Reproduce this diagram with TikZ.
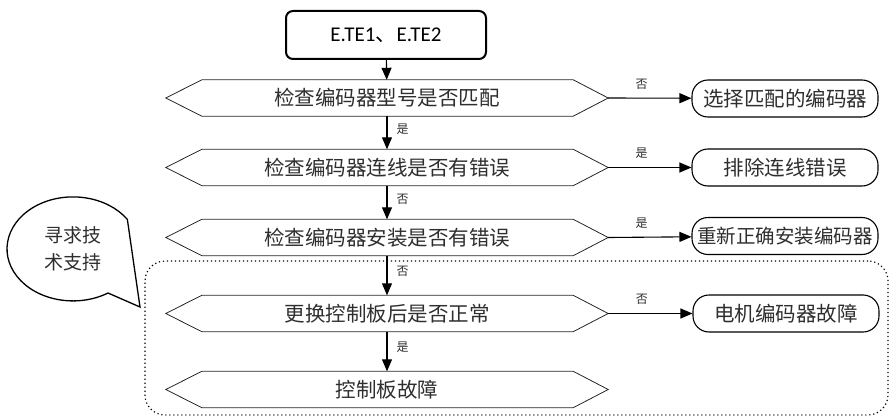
\documentclass[tikz,border=0pt]{standalone}
\usepackage{fontspec}
\setmainfont{Noto Sans CJK SC}
\newfontfamily\latinf{Carlito}
\usetikzlibrary{arrows.meta}
\begin{document}
\begin{tikzpicture}[x=1pt,y=-1pt,
  txt/.style={text=black!82},
  hexn/.style={txt,minimum width=442pt,minimum height=36pt,inner sep=0pt,font=\fontsize{20.5}{24}\selectfont},
  hexline/.style={draw=black!85,line width=0.8pt},
  rbox/.style={txt,draw,line width=1.1pt,rounded corners=16pt,minimum width=186pt,minimum height=37pt,inner sep=0pt,font=\fontsize{20.5}{24}\selectfont},
  arr/.style={line width=1.1pt,-{Triangle[length=12pt,width=10pt]}},
  lab/.style={txt,font=\fontsize{12}{14}\selectfont,inner sep=1pt}]
\useasboundingbox (0,0) rectangle (890,417);

% dotted group
\node[draw,dash pattern=on 1.2pt off 2.8pt,line width=1.2pt,rounded corners=20pt,minimum width=743pt,minimum height=154pt] (grp) at (516.5,338) {};

% start box
\node[draw,line width=2pt,rounded corners=7pt,minimum width=200pt,minimum height=48pt,font=\fontsize{21}{24}\selectfont] (top) at (386,35) {{\latinf E.TE1}、{\latinf E.TE2}};

% hexagons
\node[hexn] (h1) at (387,98) {检查编码器型号是否匹配};
\node[hexn] (h2) at (387,167.5) {检查编码器连线是否有错误};
\node[hexn] (h3) at (387,237.5) {检查编码器安装是否有错误};
\node[hexn] (h4) at (387,313.5) {更换控制板后是否正常};
\node[hexn] (h5) at (387,389.5) {控制板故障};
\foreach \h in {h1,h2,h3,h4,h5}{
  \draw[hexline] (\h.west) -- ([xshift=36pt]\h.north west) -- ([xshift=-35pt]\h.north east) -- (\h.east) -- ([xshift=-35pt]\h.south east) -- ([xshift=36pt]\h.south west) -- cycle;
}

% right boxes
\node[rbox] (b1) at (785,98.5) {选择匹配的编码器};
\node[rbox] (b2) at (785,167.5) {排除连线错误};
\node[rbox,font=\fontsize{19.5}{23}\selectfont] (b3) at (785,236) {重新正确安装编码器};
\node[rbox] (b4) at (786,313.5) {电机编码器故障};

% vertical arrows
\draw[arr] (top) -- (h1);
\draw[arr] (h1) -- node[lab,pos=0.4,right=8pt]{是} (h2);
\draw[arr] (h2) -- node[lab,pos=0.4,right=8pt]{否} (h3);
\draw[arr] (h3) -- node[lab,pos=0.4,right=8pt]{否} (h4);
\draw[arr] (h4) -- node[lab,pos=0.4,right=8pt]{是} (h5);

% horizontal arrows
\draw[arr] (h1.east) -- node[lab,pos=0.4,above=7pt]{否} (b1);
\draw[arr] (h2.east) -- node[lab,pos=0.4,above=7pt]{是} (b2);
\draw[arr] (h3.east) -- node[lab,pos=0.4,above=7pt]{是} (b3);
\draw[arr] (h4.east) -- node[lab,pos=0.4,above=7pt]{否} (b4);

% speech bubble
\draw[line width=1.3pt,line join=miter] (140,307) -- (108,293) arc[start angle=-58,end angle=-325.4,x radius=66pt,y radius=52pt] -- cycle;
\node[txt,align=center,font=\fontsize{19}{27}\selectfont] (bub) at (73,249) {寻求技\\术支持};
\end{tikzpicture}
\end{document}
